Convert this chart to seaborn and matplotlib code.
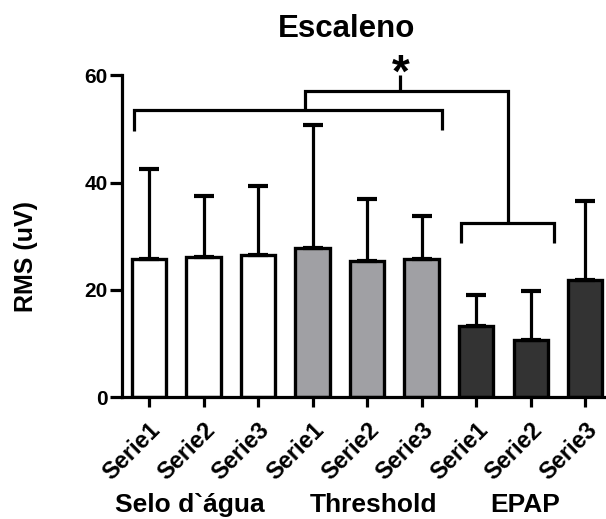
import numpy as np
import pandas as pd
import matplotlib
matplotlib.use("Agg")
import matplotlib.pyplot as plt
import seaborn as sns

# ---- data ----
groups = ["Selo d`água", "Threshold", "EPAP"]
series = ["Serie1", "Serie2", "Serie3"]
means = [25.8, 26.2, 26.5, 27.9, 25.4, 25.7, 13.3, 10.7, 21.9]
sds = [16.7, 11.4, 12.9, 22.8, 11.5, 8.0, 5.8, 9.2, 14.6]
bar_colors = ["#ffffff"] * 3 + ["#a0a0a4"] * 3 + ["#333333"] * 3
yticks = [0, 20, 40, 60]
title = "Escaleno"
ylabel = "RMS (uV)"

sns.set_style("ticks")
plt.rcParams["font.family"] = ["Liberation Sans", "DejaVu Sans"]
plt.rcParams["font.weight"] = "bold"
for k in ["text.color", "axes.labelcolor", "xtick.color", "ytick.color",
          "axes.edgecolor"]:
    plt.rcParams[k] = "black"

W, H = 606, 519
fig = plt.figure(figsize=(W / 100, H / 100), dpi=100)
ax = fig.add_axes([121.7 / W, 121.7 / H, 490.8 / W, 322 / H])

keys = [f"{g}|{s}" for g in groups for s in series]
df = pd.DataFrame({"key": keys, "RMS": means})
sns.barplot(data=df, x="key", y="RMS", hue="key", palette=bar_colors,
            legend=False, edgecolor="black", linewidth=2.4, width=0.63,
            errorbar=None, saturation=1, ax=ax)

pos = np.arange(len(means))
ax.errorbar(pos, means, yerr=[np.zeros(len(sds)), sds], fmt="none",
            ecolor="black", elinewidth=2.3, capsize=7.5, capthick=3.0, zorder=3)

ax.set_xlim(-0.5, 8.5)
ax.set_ylim(0, 60)
ax.set_yticks(yticks)
ax.set_xticks(pos)
ax.set_xticklabels(series * 3, rotation=45, ha="right", rotation_mode="anchor")
ax.set_xlabel("")
ax.set_ylabel("")
for s in ["top", "right"]:
    ax.spines[s].set_visible(False)
for s in ["left", "bottom"]:
    ax.spines[s].set_linewidth(2.3)
    ax.spines[s].set_color("black")
ax.tick_params(axis="y", length=9, width=2.3, pad=1, labelsize=15, colors="black")
ax.tick_params(axis="x", length=7, width=2.3, pad=8, labelsize=17, colors="black")
for lab in ax.get_xticklabels() + ax.get_yticklabels():
    lab.set_fontweight("bold")

# ---- significance brackets ----
kw = dict(color="black", lw=2.3, clip_on=False, solid_capstyle="butt",
          solid_joinstyle="miter")
ax.plot([-0.28, -0.28, 5.38, 5.38], [49.7, 53.5, 53.5, 49.8], **kw)
ax.plot([5.72, 5.72, 7.43, 7.43], [28.7, 32.5, 32.5, 28.7], **kw)
ax.plot([2.86, 2.86, 6.58, 6.58], [53.5, 57.1, 57.1, 32.5], **kw)
ax.plot([4.6, 4.6], [57.1, 60.05], **kw)
ax.text(4.61, 64.3, "*", ha="center", va="top", fontsize=33,
        fontweight="bold", clip_on=False, color="black")

fig.text(346.5 / W, 1 - 36.7 / H, title, ha="center", va="baseline",
         fontsize=22.5, fontweight="bold", color="black")
fig.text(26 / W, 1 - 256 / H, ylabel, rotation=90, ha="center", va="center",
         fontsize=18, fontweight="bold", color="black")
for g, xp in zip(groups, [190, 373, 525]):
    fig.text(xp / W, 7.3 / H, g, ha="center", va="baseline", fontsize=19,
             fontweight="bold", color="black")

fig.savefig("out.png", dpi=100)
